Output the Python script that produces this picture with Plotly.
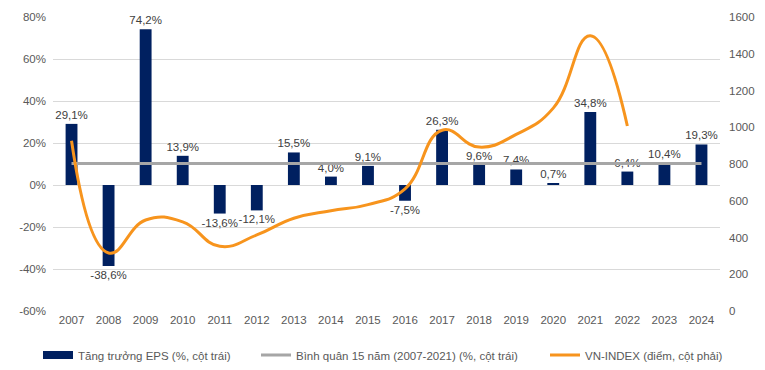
import plotly.graph_objects as go

years = [str(y) for y in range(2007, 2025)]
eps_growth = [29.1, -38.6, 74.2, 13.9, -13.6, -12.1, 15.5, 4.0, 9.1, -7.5,
              26.3, 9.6, 7.4, 0.7, 34.8, 6.4, 10.4, 19.3]
avg_15y = [10.2] * 18
vnindex_years = [str(y) for y in range(2007, 2023)]
vnindex = [927, 316, 495, 485, 352, 414, 505, 546, 579, 665,
           984, 892, 961, 1104, 1498, 1007]

left_ticks = [-60, -40, -20, 0, 20, 40, 60, 80]
left_ticktext = [f"{v}%" for v in left_ticks]
right_ticks = [0, 200, 400, 600, 800, 1000, 1200, 1400, 1600]

FONT = "Liberation Sans, Arial, sans-serif"
GREY_TXT = "#595959"
NAVY = "#002060"
ORANGE = "#F7941D"
GREY_LINE = "#A6A6A6"

labels = [f"{v:.1f}%".replace(".", ",") for v in eps_growth]

fig = go.Figure()
fig.add_trace(go.Bar(
    x=years, y=eps_growth, name="Tăng trưởng EPS (%, cột trái)",
    marker=dict(color=NAVY, line=dict(width=0)),
    width=0.32, text=labels, textposition="outside",
    textfont=dict(family=FONT, size=11.5, color="#404040"),
    constraintext="none", cliponaxis=False, showlegend=False,
))
fig.add_trace(go.Scatter(
    x=years, y=avg_15y, mode="lines",
    name="Bình quân 15 năm (2007-2021) (%, cột trái)",
    line=dict(color=GREY_LINE, width=3), legend="legend2",
))
fig.add_trace(go.Scatter(
    x=vnindex_years, y=vnindex, mode="lines", yaxis="y2",
    name="VN-INDEX (điểm, cột phải)",
    line=dict(color=ORANGE, width=3, shape="spline", smoothing=1.3),
    legend="legend3",
))
# legend key for the bars (wide rectangle like the original)
fig.add_trace(go.Scatter(
    x=[None], y=[None], mode="lines", name="Tăng trưởng EPS (%, cột trái)",
    line=dict(color=NAVY, width=8), legend="legend",
))

leg_common = dict(orientation="h", xref="container", yref="container",
                  yanchor="middle", xanchor="left",
                  font=dict(family=FONT, size=11.5, color=GREY_TXT),
                  itemwidth=30, bgcolor="rgba(0,0,0,0)")
LY = 1 - 347 / 370

fig.update_layout(
    width=765, height=370,
    margin=dict(l=45, r=53, t=9, b=67, autoexpand=False),
    paper_bgcolor="white", plot_bgcolor="white",
    font=dict(family=FONT, size=11.5, color=GREY_TXT),
    showlegend=True,
    legend=dict(x=30 / 765, y=LY, **leg_common),
    legend2=dict(x=248 / 765, y=LY, **leg_common),
    legend3=dict(x=537 / 765, y=LY, **leg_common),
    xaxis=dict(type="category", showgrid=False, showline=False, ticks="",
               automargin=False,
               tickfont=dict(family=FONT, size=11.5, color=GREY_TXT)),
    yaxis=dict(range=[-60, 80], tickvals=left_ticks, ticktext=left_ticktext,
               showgrid=True, gridcolor="#D9D9D9", gridwidth=1,
               zeroline=False, showline=False, ticks="", automargin=False,
               ticklabelstandoff=6,
               tickfont=dict(family=FONT, size=11.5, color=GREY_TXT)),
    yaxis2=dict(range=[0, 1600], tickvals=right_ticks, overlaying="y", side="right",
                showgrid=False, zeroline=False, showline=False, ticks="",
                automargin=False, ticklabelstandoff=8,
                tickfont=dict(family=FONT, size=11.5, color=GREY_TXT)),
)

fig.write_html("out.html")
